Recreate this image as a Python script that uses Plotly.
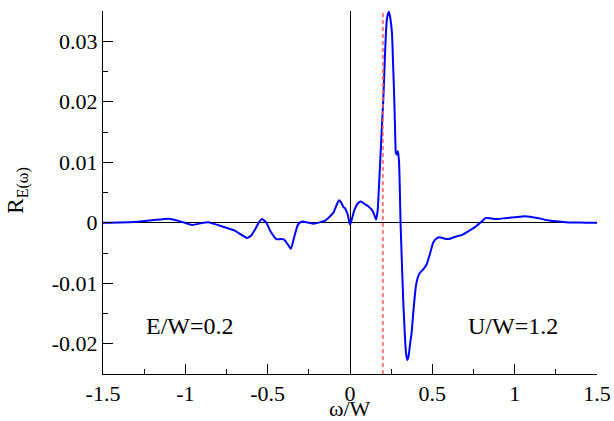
import plotly.graph_objects as go

omega = [-1.5, -1.4, -1.29, -1.2, -1.1, -1.03, -0.96, -0.91, -0.86, -0.79, -0.70, -0.625, -0.60, -0.577,
         -0.55, -0.535, -0.51, -0.483, -0.447, -0.42, -0.40, -0.38, -0.359, -0.34, -0.316, -0.292, -0.25,
         -0.221, -0.18, -0.15, -0.121, -0.102, -0.08, -0.067, -0.055, -0.04, -0.031, -0.02, -0.012, -0.005,
         0.0, 0.008, 0.015, 0.028, 0.045, 0.064, 0.08, 0.095, 0.112, 0.131, 0.145, 0.158, 0.168, 0.175,
         0.182, 0.192, 0.202, 0.21, 0.218, 0.226, 0.236, 0.245, 0.255, 0.262, 0.269, 0.275, 0.279, 0.285,
         0.291, 0.295, 0.299, 0.303, 0.307, 0.315, 0.323, 0.333, 0.340, 0.348, 0.356, 0.365, 0.374, 0.387,
         0.40, 0.412, 0.424, 0.445, 0.465, 0.485, 0.505, 0.525, 0.546, 0.57, 0.599, 0.64, 0.682, 0.72,
         0.765, 0.80, 0.825, 0.86, 0.896, 0.95, 1.0, 1.062, 1.11, 1.158, 1.2, 1.253, 1.31, 1.371, 1.43, 1.5]
R = [0.0, 0.00005, 0.00018, 0.0004, 0.00068, 0.00023, -0.00037, -0.0001, 0.0001, -0.0005, -0.0013, -0.0025,
     -0.0021, -0.0011, 0.0002, 0.0006, 0.0001, -0.0014, -0.0027, -0.0027, -0.0028, -0.0035, -0.0043, -0.0025,
     -0.0003, 0.0002, 0.0, -0.00015, 0.0001, 0.00035, 0.00106, 0.0016, 0.0030, 0.0037, 0.0034, 0.0026, 0.0024,
     0.0018, 0.0012, 0.0002, -0.0003, 0.0003, 0.0010, 0.0022, 0.0031, 0.0035, 0.0033, 0.0030, 0.0027, 0.0022,
     0.0015, 0.0005, 0.0020, 0.0055, 0.0093, 0.0150, 0.0203, 0.0260, 0.0313, 0.0340, 0.0349, 0.0338, 0.0313,
     0.0260, 0.0203, 0.0140, 0.0115, 0.0113, 0.0118, 0.0110, 0.0093, 0.0050, 0.0, -0.0065, -0.0127, -0.0185,
     -0.0215, -0.0227, -0.0220, -0.0200, -0.0182, -0.0140, -0.0105, -0.0090, -0.0083, -0.0077, -0.0069,
     -0.0052, -0.0033, -0.0026, -0.0024, -0.0026, -0.0027, -0.0023, -0.0020, -0.0014, -0.0006, 0.0002,
     0.0008, 0.0007, 0.0006, 0.0008, 0.0009, 0.00106, 0.0009, 0.00068, 0.0004, 0.00023, 0.0001, 0.00005,
     0.00002, 0.0]

x_ticks = [-1.5, -1, -0.5, 0, 0.5, 1, 1.5]
x_tick_labels = ["-1.5", "-1", "-0.5", "0", "0.5", "1", "1.5"]
y_ticks = [-0.02, -0.01, 0, 0.01, 0.02, 0.03]
y_tick_labels = ["-0.02", "-0.01", "0", "0.01", "0.02", "0.03"]
E_W = 0.2
labels = ["E/W=0.2", "U/W=1.2"]
label_x = [-0.97, 0.99]
label_y = [-0.017, -0.017]
x_title = "ω/W"
y_title = "R<sub>E(ω)</sub>"

FONT = "Times New Roman"

fig = go.Figure()
fig.add_trace(go.Scatter(x=omega, y=R, mode="lines",
                         line=dict(color="#0000ff", width=2, shape="spline", smoothing=0.5),
                         showlegend=False, hoverinfo="skip"))

fig.add_shape(type="line", xref="x", yref="paper", x0=E_W, x1=E_W, y0=0, y1=1,
              line=dict(color="#ff5a5a", width=1.5, dash="4px,3px"))

for t, lx, ly in zip(labels, label_x, label_y):
    fig.add_annotation(x=lx, y=ly, text=t, showarrow=False,
                       font=dict(family=FONT, size=24, color="black"))

# axis titles
fig.add_annotation(xref="paper", yref="paper", x=0.5, y=-0.0945, text=x_title, showarrow=False,
                   xanchor="center", yanchor="middle", borderpad=0,
                   font=dict(family=FONT, size=22, color="black"))
fig.add_annotation(xref="paper", yref="paper", x=-0.172, y=0.505, text=y_title, showarrow=False,
                   textangle=-90, xanchor="center", yanchor="middle",
                   font=dict(family=FONT, size=23, color="black"))

fig.update_layout(
    width=614, height=421,
    margin=dict(l=103, r=17, t=11, b=47, autoexpand=False),
    paper_bgcolor="white", plot_bgcolor="white",
    font=dict(family=FONT, size=22, color="black"),
)
fig.update_xaxes(range=[-1.5, 1.5], tickvals=x_ticks, ticktext=x_tick_labels,
                 ticks="inside", ticklen=10, tickwidth=1, tickcolor="black",
                 minor=dict(dtick=0.25, ticks="inside", ticklen=5, tickcolor="black", showgrid=False),
                 showline=True, linecolor="black", linewidth=1, mirror=False, automargin=False,
                 showgrid=False, zeroline=True, zerolinecolor="black", zerolinewidth=1,
                 tickfont=dict(family=FONT, size=22))
fig.update_yaxes(range=[-0.025, 0.035], tickvals=y_ticks, ticktext=y_tick_labels,
                 ticks="inside", ticklen=10, tickwidth=1, tickcolor="black",
                 minor=dict(dtick=0.005, ticks="inside", ticklen=5, tickcolor="black", showgrid=False),
                 showline=True, linecolor="black", linewidth=1, mirror=False, automargin=False,
                 showgrid=False, zeroline=True, zerolinecolor="black", zerolinewidth=1,
                 tickfont=dict(family=FONT, size=22))

fig.write_html("out.html", config={"displayModeBar": False},
               post_script="document.body.style.margin='0px';")
